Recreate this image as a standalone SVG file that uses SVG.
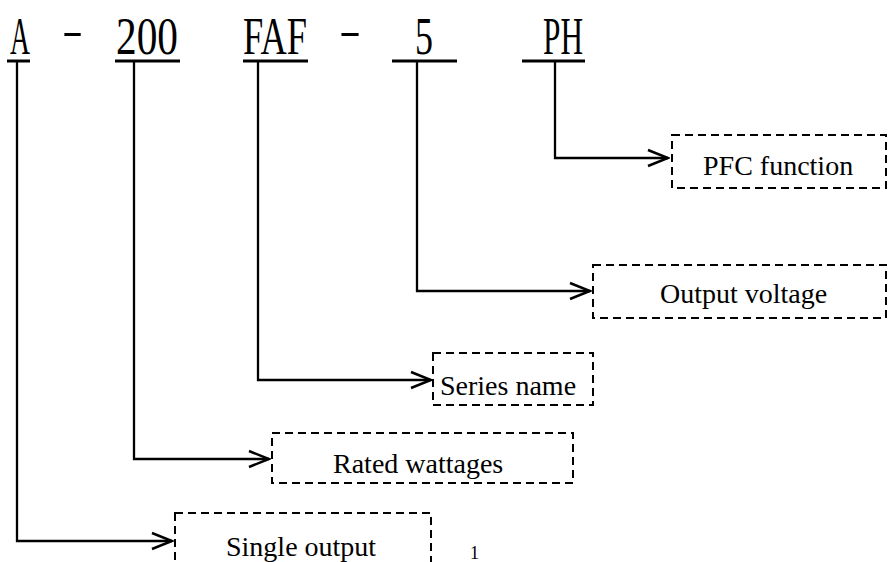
<svg xmlns="http://www.w3.org/2000/svg" width="889" height="562" viewBox="0 0 889 562">
<style>
.code{font-family:"Liberation Serif",serif;font-size:52px;fill:#000}
.dash{font-family:"Liberation Serif",serif;font-size:40px;fill:#000}
.lbl{font-family:"Liberation Serif",serif;font-size:28px;fill:#000}
.ul{stroke:#000;stroke-width:3;fill:none}
.box{fill:none;stroke:#000;stroke-width:2;stroke-dasharray:8 5}
.conn{fill:none;stroke:#000;stroke-width:2.3;marker-end:url(#arr)}
</style>
<defs>
<marker id="arr" markerUnits="userSpaceOnUse" viewBox="-22 -10 24 20" refX="0" refY="0" markerWidth="24" markerHeight="20" orient="auto">
<path d="M-20,-8 L0,0 L-20,8" fill="none" stroke="#000" stroke-width="2.5"/>
</marker>
</defs>
<rect width="889" height="562" fill="#fff"/>
<g id="code">
<text class="code" x="10" y="54" textLength="20" lengthAdjust="spacingAndGlyphs">A</text>
<text class="dash" x="62" y="44" textLength="21" lengthAdjust="spacingAndGlyphs">-</text>
<text class="code" x="116" y="54" textLength="62" lengthAdjust="spacingAndGlyphs">200</text>
<text class="code" x="243" y="54" textLength="64" lengthAdjust="spacingAndGlyphs">FAF</text>
<text class="dash" x="339" y="44" textLength="22" lengthAdjust="spacingAndGlyphs">-</text>
<text class="code" x="415" y="54" textLength="18" lengthAdjust="spacingAndGlyphs">5</text>
<text class="code" x="543" y="54" textLength="40" lengthAdjust="spacingAndGlyphs">PH</text>
<line class="ul" x1="7" y1="61" x2="30" y2="61"/>
<line class="ul" x1="115" y1="61" x2="180" y2="61"/>
<line class="ul" x1="243" y1="61" x2="308" y2="61"/>
<line class="ul" x1="392" y1="61" x2="457" y2="61"/>
<line class="ul" x1="522" y1="61" x2="585" y2="61"/>
</g>
<g id="connectors">
<path class="conn" d="M555,62 V158 H668"/>
<path class="conn" d="M417,62 V291 H590"/>
<path class="conn" d="M258,62 V380 H431"/>
<path class="conn" d="M134,62 V459 H269"/>
<path class="conn" d="M17,62 V541 H172"/>
</g>
<g id="pfc">
<rect class="box" x="672" y="135" width="214" height="53"/>
<text class="lbl" x="703" y="175">PFC function</text>
</g>
<g id="voltage">
<rect class="box" x="593" y="265" width="293" height="53"/>
<text class="lbl" x="660" y="303">Output voltage</text>
</g>
<g id="series">
<rect class="box" x="433" y="353" width="160" height="52"/>
<text class="lbl" x="440" y="395">Series name</text>
</g>
<g id="rated">
<rect class="box" x="272" y="433" width="301" height="50"/>
<text class="lbl" x="333" y="473">Rated wattages</text>
</g>
<g id="single">
<rect class="box" x="175" y="513" width="256" height="60"/>
<text class="lbl" x="226" y="556">Single output</text>
</g>
<text class="lbl" x="470" y="559" style="font-size:18px">1</text>
</svg>
